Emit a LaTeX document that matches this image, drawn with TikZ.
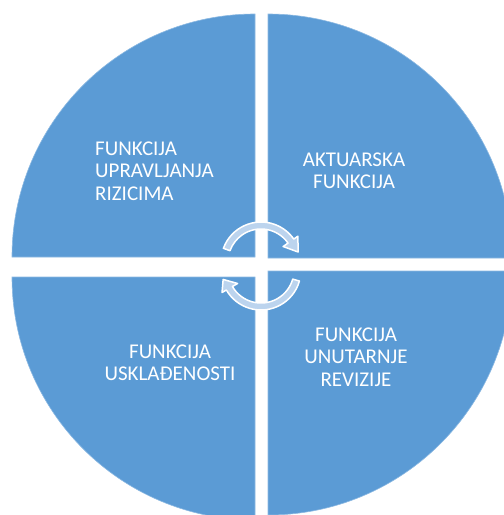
\documentclass[tikz,border=0pt]{standalone}
\usepackage{fontspec}
\setmainfont{Carlito}
\usetikzlibrary{calc}
\definecolor{segblue}{HTML}{5B9BD5}
\definecolor{arrowfill}{HTML}{BCD4EE}
\begin{document}
\begin{tikzpicture}[x=1pt,y=1pt,
  seg/.style={fill=segblue,draw=segblue!70!white,line width=0.6pt},
  cyc/.style={fill=arrowfill,draw=white,line width=1.5pt,line join=round},
  lbl/.style={text=white,font=\fontsize{21}{22.5}\selectfont,inner sep=0pt}]
\useasboundingbox (0,0) rectangle (504,-515);
% quadrants
\path[seg] (255,-257) -- ++(180:243) arc[start angle=180,end angle=90,radius=243] -- cycle;
\path[seg] (268,-258) -- ++(90:244) arc[start angle=90,end angle=0,radius=244] -- cycle;
\path[seg] (255,-277) -- ++(180:243) arc[start angle=180,end angle=270,radius=243] -- cycle;
\path[seg] (268,-271) -- ++(0:244) arc[start angle=0,end angle=-90,radius=244] -- cycle;
% circular arrows
\coordinate (cu) at (261,-262);
\coordinate (cl) at (261,-270);
\path[cyc] ($(cu)+(160:40)$) arc[start angle=160,end angle=35,radius=40]
  -- ($(cu)+(35:45)$) -- ($(cu)+(15:38.5)$) -- ($(cu)+(35:27)$)
  -- ($(cu)+(35:33)$) arc[start angle=35,end angle=160,radius=33] -- cycle;
\path[cyc] ($(cl)+(-16:40)$) arc[start angle=-16,end angle=-150,radius=40]
  -- ($(cl)+(-150:45)$) -- ($(cl)+(-166:39)$) -- ($(cl)+(-150:27)$)
  -- ($(cl)+(-150:33)$) arc[start angle=-150,end angle=-16,radius=33] -- cycle;
% labels
\node[lbl,anchor=west,align=left] (risk) at (95,-171) {FUNKCIJA\\UPRAVLJANJA\\RIZICIMA};
\node[lbl,align=center] (akt) at (354,-171) {AKTUARSKA\\FUNKCIJA};
\node[lbl,align=center] (rev) at (356,-357) {FUNKCIJA\\UNUTARNJE\\REVIZIJE};
\node[lbl,align=center] (usk) at (170,-363) {FUNKCIJA\\USKLAĐENOSTI};
\end{tikzpicture}
\end{document}
